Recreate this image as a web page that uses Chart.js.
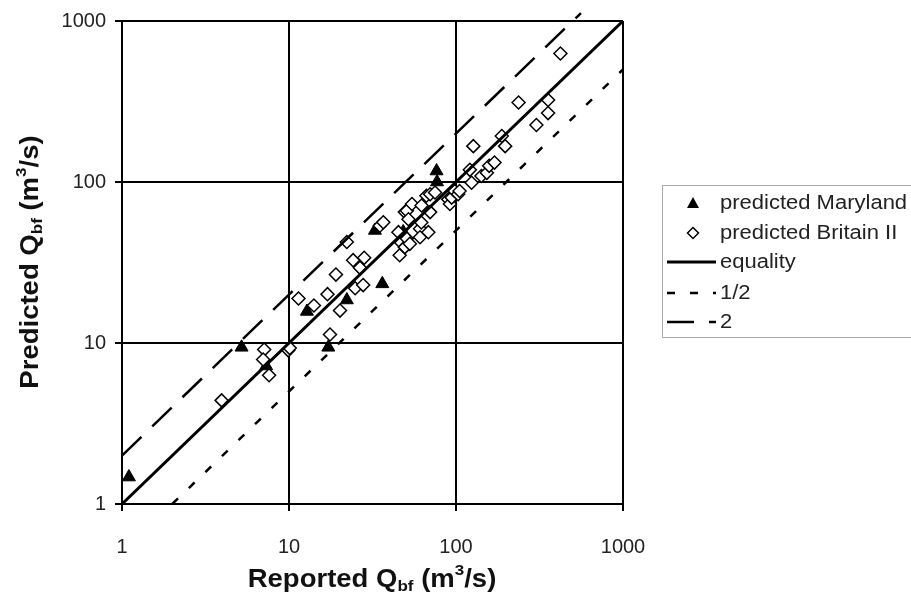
<!DOCTYPE html>
<html>
<head>
<meta charset="utf-8">
<script src="https://cdn.jsdelivr.net/npm/chart.js@4.4.1/dist/chart.umd.min.js"></script>
<style>
  html, body { margin: 0; padding: 0; background: #fff; }
  #wrap { width: 911px; height: 602px; position: relative; }
</style>
</head>
<body>
<div id="wrap"><canvas id="chart" width="911" height="602"></canvas></div>
<script>
// values (reported, predicted) in m3/s
const marylandX = [1.1, 5.2, 7.3, 12.8, 17.2, 22.2, 32.7, 36.2, 48.3, 76.5, 77];
const marylandY = [1.47, 9.4, 7.2, 15.7, 9.4, 18.5, 50, 23.3, 49, 117, 100];

const britainX = [3.95, 7.1, 7.0, 7.6, 9.9, 10.1, 11.4, 14.1, 17.0, 17.6, 19.1, 20.2, 22.2, 24.2, 24.9,
  26.6, 27.8, 28.2, 35.0, 36.7, 46.0, 45.2, 47, 49.4, 50.8, 52.9, 49.4, 50.8, 51.9, 54.5, 60.9, 60.9,
  62, 62.2, 66.5, 68.3, 70, 70, 74.9, 89.8, 92, 94.2, 98, 103, 105, 121, 124, 127, 142, 153, 158,
  170, 188, 197, 237, 303, 356, 356, 422];
const britainY = [4.4, 9.1, 7.9, 6.3, 9.0, 9.3, 18.9, 17.1, 20.1, 11.3, 26.6, 15.9, 42.4, 32.7, 21.9,
  29.3, 22.9, 33.8, 53.5, 56.2, 35.1, 48.8, 42, 39.4, 44.5, 41.3, 65, 66.3, 58.7, 73, 51.3, 45.4,
  56, 71.4, 82.2, 48.8, 65, 84, 86, 78, 73, 80, 88, 84, 88, 119, 99, 167, 109, 114, 126,
  132, 193, 167, 312, 226, 323, 268, 628];

const equalityX = [1, 1000];
const equalityY = [1, 1000];
const halfX = [2, 1000];
const halfY = [1, 500];
const doubleX = [1, 560];
const doubleY = [2, 1120];

const decadeTicks = [1, 10, 100, 1000];

function pts(xs, ys) { return xs.map((x, i) => ({ x: x, y: ys[i] })); }

const FONT = "'Liberation Sans', Arial, sans-serif";

// draws a label made of normal / sub / sup runs, centred on (cx, cy), stretched a little sideways
function drawRich(ctx, parts, cx, cy, size, stretch) {
  ctx.save();
  ctx.translate(cx, cy);
  ctx.scale(stretch, 1);
  ctx.textBaseline = 'middle';
  ctx.textAlign = 'left';
  let w = 0;
  parts.forEach(p => {
    const s = p.sub || p.sup ? size * 0.62 : size;
    ctx.font = 'bold ' + s + 'px ' + FONT;
    p.w = ctx.measureText(p.t).width;
    w += p.w;
  });
  let x = -w / 2;
  parts.forEach(p => {
    const s = p.sub || p.sup ? size * 0.62 : size;
    ctx.font = 'bold ' + s + 'px ' + FONT;
    let y = 0;
    if (p.sub) y += size * 0.28;
    if (p.sup) y -= size * 0.38;
    ctx.fillText(p.t, x, y);
    x += p.w;
  });
  ctx.restore();
}

const titleParts = word => [{ t: word + ' ' }, { t: 'Q' }, { t: 'bf', sub: true }, { t: ' (m' }, { t: '3', sup: true }, { t: '/s)' }];

const titlesAndLegend = {
  id: 'titlesAndLegend',
  afterDraw(chart) {
    const ctx = chart.ctx;
    ctx.save();
    ctx.fillStyle = '#111';
    drawRich(ctx, titleParts('Reported'), 372, 580, 25, 1.1);
    ctx.translate(31, 262);
    ctx.rotate(-Math.PI / 2);
    drawRich(ctx, titleParts('Predicted'), 0, 0, 25, 1.1);
    ctx.restore();

    // legend box
    ctx.save();
    ctx.strokeStyle = '#aaa';
    ctx.lineWidth = 1;
    ctx.strokeRect(662.5, 185.5, 300, 152);
    const rows = [
      { text: 'predicted Maryland', kind: 'tri', y: 203 },
      { text: 'predicted Britain II', kind: 'dia', y: 233 },
      { text: 'equality', kind: 'line', dash: [], width: 3, y: 262 },
      { text: '1/2', kind: 'line', dash: [8, 15], width: 2.5, y: 293 },
      { text: '2', kind: 'line', dash: [27, 15], width: 2.5, y: 322 }
    ];
    rows.forEach(r => {
      ctx.fillStyle = '#000';
      ctx.strokeStyle = '#000';
      if (r.kind === 'tri') {
        ctx.beginPath();
        ctx.moveTo(693, r.y - 6);
        ctx.lineTo(699, r.y + 5);
        ctx.lineTo(687, r.y + 5);
        ctx.closePath();
        ctx.fill();
      } else if (r.kind === 'dia') {
        ctx.fillStyle = '#fff';
        ctx.lineWidth = 1.5;
        ctx.beginPath();
        ctx.moveTo(693, r.y - 5.5);
        ctx.lineTo(698.5, r.y);
        ctx.lineTo(693, r.y + 5.5);
        ctx.lineTo(687.5, r.y);
        ctx.closePath();
        ctx.fill();
        ctx.stroke();
      } else {
        ctx.lineWidth = r.width;
        ctx.setLineDash(r.dash);
        ctx.beginPath();
        ctx.moveTo(667, r.y);
        ctx.lineTo(716, r.y);
        ctx.stroke();
        ctx.setLineDash([]);
      }
      ctx.save();
      ctx.translate(720, r.y);
      ctx.scale(1.1, 1);
      ctx.fillStyle = '#222';
      ctx.font = '20px ' + FONT;
      ctx.textBaseline = 'middle';
      ctx.textAlign = 'left';
      ctx.fillText(r.text, 0, 0);
      ctx.restore();
    });
    ctx.restore();
  }
};

const axisCommon = {
  type: 'logarithmic',
  min: 1,
  max: 1000,
  afterBuildTicks: axis => { axis.ticks = decadeTicks.map(v => ({ value: v })); },
  grid: { color: '#000', lineWidth: 2, tickLength: 7, tickColor: '#000' },
  border: { display: true, color: '#000', width: 2 },
  ticks: { color: '#222', font: { family: FONT, size: 20 }, callback: v => String(v), autoSkip: false, maxRotation: 0 }
};

new Chart(document.getElementById('chart'), {
  type: 'scatter',
  data: {
    datasets: [
      { label: 'predicted Maryland', data: pts(marylandX, marylandY), pointStyle: 'triangle', pointRadius: 7.5,
        backgroundColor: '#000', borderColor: '#000', borderWidth: 1, order: 3 },
      { label: 'predicted Britain II', data: pts(britainX, britainY), pointStyle: 'rectRot', pointRadius: 6.5,
        backgroundColor: '#fff', borderColor: '#000', borderWidth: 1.5, order: 2 },
      { label: 'equality', data: pts(equalityX, equalityY), showLine: true, pointRadius: 0,
        borderColor: '#000', borderWidth: 3, order: 1 },
      { label: '1/2', data: pts(halfX, halfY), showLine: true, pointRadius: 0,
        borderColor: '#000', borderWidth: 2.5, borderDash: [8, 15], order: 1 },
      { label: '2', data: pts(doubleX, doubleY), showLine: true, pointRadius: 0, clip: false,
        borderColor: '#000', borderWidth: 2.5, borderDash: [27, 15], order: 1 }
    ]
  },
  options: {
    responsive: false,
    devicePixelRatio: 1,
    animation: false,
    layout: { padding: { top: 17, right: 288, left: 0, bottom: 0 } },
    plugins: { legend: { display: false }, tooltip: { enabled: false } },
    scales: {
      x: Object.assign({}, axisCommon, {
        position: 'bottom',
        afterFit: s => { s.height = 98; },
        ticks: Object.assign({}, axisCommon.ticks, { padding: 24 })
      }),
      y: Object.assign({}, axisCommon, {
        position: 'left',
        afterFit: s => { s.width = 122; },
        ticks: Object.assign({}, axisCommon.ticks, { padding: 9 })
      })
    }
  },
  plugins: [titlesAndLegend]
});
</script>
</body>
</html>
